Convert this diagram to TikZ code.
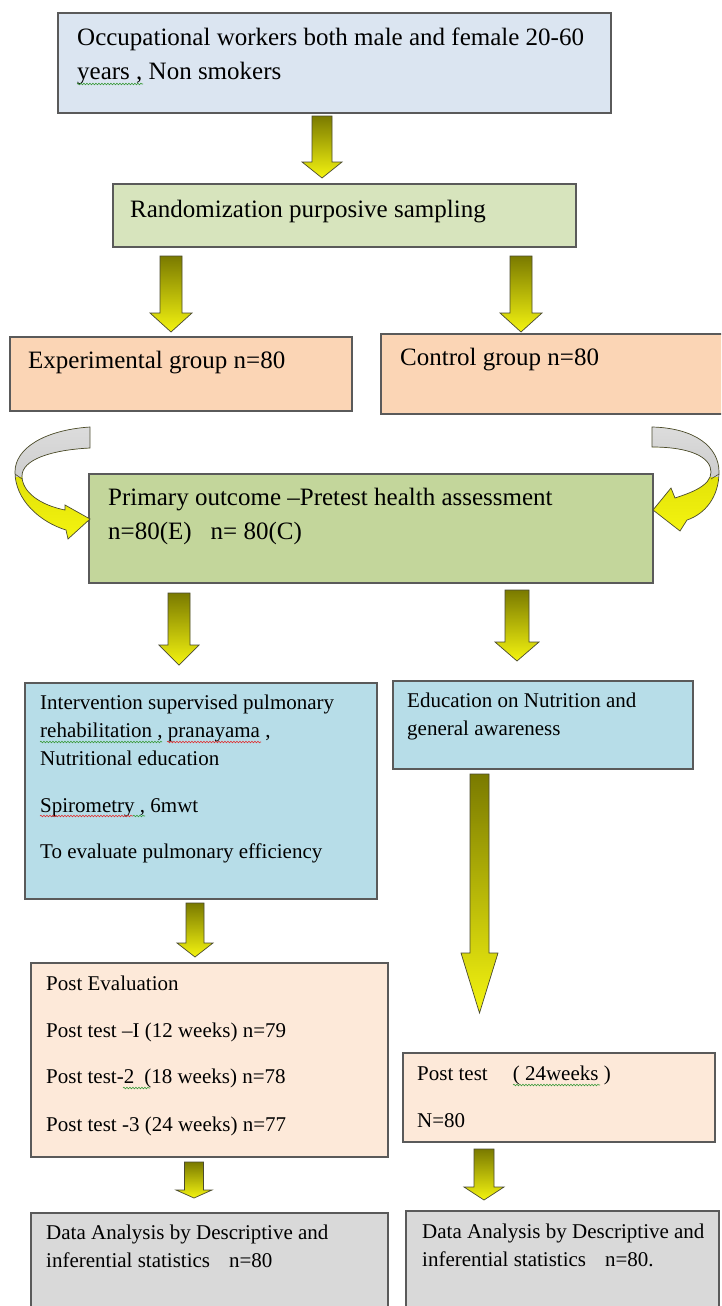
\documentclass[tikz,border=0pt]{standalone}
\usepackage{fontspec}
\setmainfont{Liberation Serif}
\usetikzlibrary{calc,decorations.pathmorphing}
\definecolor{boxline}{HTML}{5A5A5A}
\definecolor{cA}{HTML}{DBE5F1}
\definecolor{cB}{HTML}{D7E4BD}
\definecolor{cC}{HTML}{FBD5B5}
\definecolor{cD}{HTML}{C3D69B}
\definecolor{cE}{HTML}{B7DDE8}
\definecolor{cF}{HTML}{FDE9D9}
\definecolor{cG}{HTML}{D9D9D9}
\definecolor{arrtop}{HTML}{7A7A00}
\definecolor{arrbot}{HTML}{F4F410}
\definecolor{arrline}{HTML}{4A4A30}
\definecolor{cyel}{HTML}{D2D200}
\definecolor{gtop}{HTML}{DCDCDC}
\definecolor{gbot}{HTML}{BDBDBD}
\definecolor{sqgreen}{HTML}{3A9A3A}
\definecolor{sqred}{HTML}{E03030}
\tikzset{
  box/.style={draw=boxline, line width=1.2pt, inner sep=0pt, outer sep=0pt, anchor=north west},
  big/.style={font=\fontsize{25}{30}\selectfont, inner sep=0pt, anchor=base west},
  small/.style={font=\fontsize{21}{26}\selectfont, inner sep=0pt, anchor=base west},
  blockarrow/.style={top color=arrtop, bottom color=arrbot, draw=arrline, line width=0.7pt},
  squig/.style={decorate, decoration={snake, amplitude=0.8pt, segment length=3pt}, line width=0.6pt},
}
% name, x1, y1, x2, y2, colour  (image coordinates, y downwards)
\newcommand{\boxat}[6]{\node[box, fill=#6, minimum width={(#4-#2)*1pt}, minimum height={(#5-#3)*1pt}] (#1) at (#2,-#3) {};}
% cx, top, head base, tip, shaft half width, head half width
\newcommand{\blockdown}[6]{\shade[blockarrow] ({#1-#5},-#2) -- ({#1+#5},-#2) -- ({#1+#5},-#3) -- ({#1+#6},-#3) -- (#1,-#4) -- ({#1-#6},-#3) -- ({#1-#5},-#3) -- cycle;}
\def\lcurve{(90,-427) .. controls (45,-430) and (15,-448) .. (15,-472) .. controls (15,-500) and (40,-522) .. (66,-530) -- (68,-539) -- (90,-519) -- (65,-505) -- (65,-510) .. controls (40,-505) and (22,-492) .. (22,-476) .. controls (22,-460) and (50,-450) .. (90,-448) -- cycle}
\def\rcurve{(652,-427) .. controls (695,-428) and (719,-447) .. (719,-472) .. controls (719,-497) and (705,-514) .. (687,-520) -- (680,-531) -- (653,-510) -- (671,-488) -- (675,-498) .. controls (690,-493) and (711,-486) .. (711,-472) .. controls (711,-457) and (690,-447) .. (652,-447) -- cycle}
\begin{document}
\begin{tikzpicture}[x=1pt,y=1pt]
\clip (0,0) rectangle (721,-1306);
\fill[white] (0,0) rectangle (721,-1306);

% boxes
\boxat{b1}{58}{13}{611}{113}{cA}
\boxat{b2}{113}{184}{576}{247}{cB}
\boxat{b3}{10}{337}{352}{411}{cC}
\boxat{b4}{381}{334}{725}{414}{cC}
\boxat{b5}{89}{474}{653}{583}{cD}
\boxat{b6}{25}{683}{377}{899}{cE}
\boxat{b7}{393}{681}{693}{769}{cE}
\boxat{b8}{31}{963}{388}{1157}{cF}
\boxat{b9}{403}{1053}{715}{1142}{cF}
\boxat{b10}{31}{1213}{388}{1320}{cG}
\boxat{b11}{406}{1211}{719}{1320}{cG}

% texts
\node[big] (t1a) at (77,-46) {Occupational workers both male and female 20-60};
\node[big] (t1b) at (77,-79) {years , Non smokers};
\node[big] (t2) at (130,-217) {Randomization purposive sampling};
\node[big] (t3) at (28,-368) {Experimental group n=80};
\node[big] (t4) at (400,-365) {Control group n=80};
\node[big] (t5a) at (108,-505) {Primary outcome \textendash Pretest health assessment};
\node[big] (t5b) at (108,-539) {n=80(E)\hspace{19pt}n= 80(C)};
\node[small] (t6a) at (40,-709) {Intervention supervised pulmonary};
\node[small] (t6b) at (40,-737) {rehabilitation , pranayama ,};
\node[small] (t6c) at (40,-765) {Nutritional education};
\node[small] (t6d) at (40,-812) {Spirometry , 6mwt};
\node[small] (t6e) at (40,-858) {To evaluate pulmonary efficiency};
\node[small] (t7a) at (407,-707) {Education on Nutrition and};
\node[small] (t7b) at (407,-735) {general awareness};
\node[small] (t8a) at (46,-990) {Post Evaluation};
\node[small] (t8b) at (46,-1037) {Post test \textendash I (12 weeks) n=79};
\node[small] (t8c) at (46,-1083) {Post test-2\hspace{10pt}(18 weeks) n=78};
\node[small] (t8d) at (46,-1131) {Post test -3 (24 weeks) n=77};
\node[small] (t9a) at (417,-1080) {Post test\hspace{25pt}( 24weeks )};
\node[small] (t9b) at (417,-1127) {N=80};
\node[small] (t10a) at (46,-1239) {Data Analysis by Descriptive and};
\node[small] (t10b) at (46,-1267) {inferential statistics\hspace{19pt}n=80};
\node[small] (t11a) at (422,-1238) {Data Analysis by Descriptive and};
\node[small] (t11b) at (422,-1266) {inferential statistics\hspace{19pt}n=80.};

% spelling underlines
\draw[squig, sqgreen] (77,-84) -- (143,-84);
\draw[squig, sqgreen] (40,-742) -- (162,-742);
\draw[squig, sqred] (167,-742) -- (261,-742);
\draw[squig, sqred] (40,-816) -- (133,-816);
\draw[squig, sqgreen] (133,-816) -- (145,-816);
\draw[squig, sqgreen] (123,-1088) -- (150,-1088);
\draw[squig, sqgreen] (513,-1085) -- (600,-1085);

% block arrows
\blockdown{322}{116}{162}{178}{10}{20}
\blockdown{171}{256}{313}{332}{11}{21}
\blockdown{521}{256}{313}{332}{11}{21}
\blockdown{179}{593}{645}{665}{11}{20}
\blockdown{517}{590}{642}{661}{12}{22}
\blockdown{479.5}{774}{953}{1013}{9.5}{18.5}
\blockdown{195}{903}{943}{957}{9}{18}
\blockdown{194}{1162}{1190}{1198}{9.5}{18}
\blockdown{484}{1149}{1187}{1200}{10}{20}

% curved arrows
\shade[top color=cyel, bottom color=arrbot] \lcurve;
\begin{scope}
  \clip (0,-420) rectangle (140,-476);
  \shade[top color=gtop, bottom color=gbot] \lcurve;
\end{scope}
\draw[arrline, line width=0.7pt] \lcurve;
\draw[arrline, line width=0.6pt] (15,-474) -- (22,-479);

\shade[top color=cyel, bottom color=arrbot] \rcurve;
\begin{scope}
  \clip (600,-420) rectangle (721,-476);
  \shade[top color=gtop, bottom color=gbot] \rcurve;
\end{scope}
\draw[arrline, line width=0.7pt] \rcurve;
\draw[arrline, line width=0.6pt] (719,-474) -- (711,-479);
\end{tikzpicture}
\end{document}
